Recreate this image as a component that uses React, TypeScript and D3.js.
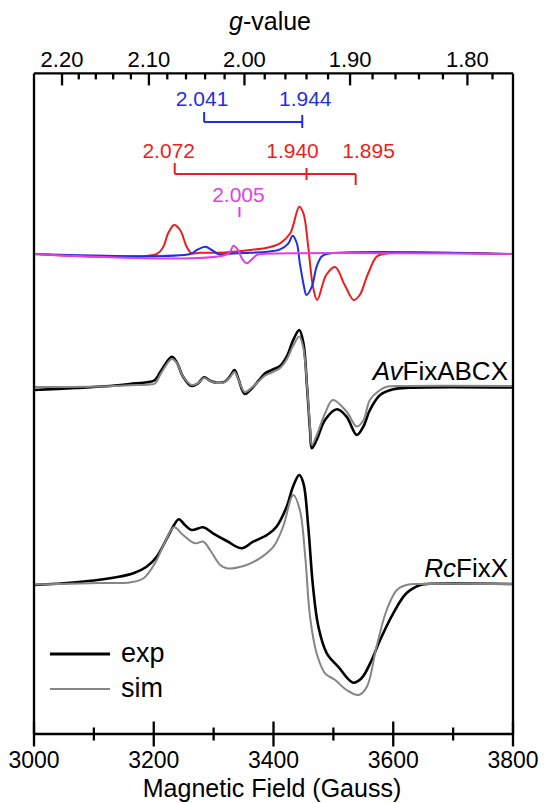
import React from 'react'
import * as d3 from 'd3'

type Pt = [number, number]

// g * B (gauss) for the spectrometer frequency, links the two x axes
const G_FIELD_PRODUCT = 6703

const FIELD_MAJOR = [3000, 3200, 3400, 3600, 3800]
const FIELD_MINOR = [3100, 3300, 3500, 3700]
const G_MAJOR = [2.2, 2.1, 2.0, 1.9, 1.8]
const G_MINOR = [2.18, 2.16, 2.14, 2.12, 2.08, 2.06, 2.04, 2.02, 1.98, 1.96, 1.94, 1.92, 1.88, 1.86, 1.84, 1.82, 1.78]

// simulated components (field G, intensity a.u.)
const redSim: Pt[] = [[3000, 0], [3205, 0], [3216, 0.73], [3224, 2.07], [3234, 2.9], [3244, 2.4], [3255, 0.73], [3263, 0.07], [3277, 0.13], [3305, 0.13], [3333, 0.23], [3361, 0.4], [3389, 0.63], [3411, 1.07], [3428, 2.07], [3443, 4.73], [3450, 4.07], [3458, 0.73], [3466, -3.27], [3473, -4.6], [3488, -2.1], [3503, -1.3], [3519, -3.1], [3534, -4.6], [3544, -4.1], [3556, -2.27], [3572, -0.27], [3583, 0], [3800, 0]]
const blueSim: Pt[] = [[3000, 0], [3261, 0], [3272, 0.4], [3286, 0.73], [3297, 0.4], [3308, 0], [3322, 0], [3361, 0.13], [3389, 0.23], [3411, 0.47], [3425, 1.07], [3432, 1.83], [3439, 1.07], [3444, -0.93], [3451, -3.27], [3455, -4.1], [3464, -3.27], [3472, -1.27], [3480, -0.27], [3489, 0], [3800, 0]]
const magentaSim: Pt[] = [[3000, 0], [3324, 0], [3333, 0.83], [3341, 0.4], [3347, -0.43], [3355, -0.93], [3364, -0.53], [3372, -0.1], [3381, 0], [3800, 0]]

const avExp: Pt[] = [[3000, -0.25], [3070, -0.05], [3120, 0.12], [3160, 0.35], [3194, 0.58], [3202, 0.75], [3213, 1.75], [3230, 3.08], [3238, 2.58], [3249, 1.08], [3263, 0.15], [3274, 0.42], [3284, 1.02], [3294, 0.68], [3305, 0.48], [3319, 0.58], [3327, 1.08], [3335, 1.75], [3341, 0.92], [3352, -0.65], [3364, -0.08], [3375, 0.68], [3386, 1.42], [3397, 1.75], [3411, 2.15], [3422, 3.08], [3433, 4.75], [3443, 5.75], [3450, 4.42], [3456, 0.08], [3461, -4.25], [3464, -6.08], [3472, -5.25], [3486, -3.25], [3506, -2.18], [3522, -2.92], [3539, -4.75], [3550, -3.92], [3561, -2.25], [3578, -0.75], [3600, -0.18], [3628, -0.02], [3800, 0]]
const avSim: Pt[] = [[3000, 0.05], [3110, 0.1], [3160, 0.22], [3194, 0.3], [3202, 0.4], [3213, 1.5], [3230, 2.85], [3238, 2.5], [3249, 1.1], [3263, 0.25], [3274, 0.45], [3284, 0.95], [3294, 0.65], [3305, 0.45], [3319, 0.55], [3327, 1.0], [3335, 1.55], [3341, 0.85], [3352, -0.45], [3364, 0], [3375, 0.6], [3386, 1.2], [3397, 1.5], [3411, 1.95], [3422, 2.8], [3433, 4.2], [3443, 5.1], [3450, 3.9], [3456, 0.2], [3461, -3.9], [3464, -5.75], [3472, -4.8], [3486, -2.6], [3499, -1.25], [3522, -2.4], [3539, -3.9], [3550, -3.3], [3561, -1.25], [3578, -0.25], [3589, 0.08], [3620, 0.15], [3800, 0.15]]

const rcExp: Pt[] = [[3000, -0.1], [3050, 0.08], [3100, 0.35], [3144, 0.75], [3166, 1.07], [3188, 1.73], [3205, 2.73], [3222, 4.57], [3234, 5.9], [3242, 6.47], [3252, 5.9], [3263, 5.4], [3283, 5.67], [3299, 5.07], [3322, 4.3], [3347, 3.57], [3366, 4.23], [3389, 4.9], [3405, 5.73], [3422, 7.73], [3433, 9.8], [3443, 10.9], [3450, 10.07], [3458, 5.73], [3466, -0.27], [3475, -4.27], [3489, -6.93], [3508, -8.27], [3533, -9.87], [3547, -9.43], [3564, -7.6], [3578, -5.6], [3600, -2.93], [3622, -0.93], [3645, -0.1], [3656, 0], [3800, 0]]
const rcSim: Pt[] = [[3000, -0.05], [3110, 0.1], [3160, 0.15], [3183, 0.57], [3202, 2.07], [3219, 4.23], [3234, 5.67], [3249, 4.9], [3269, 4.07], [3283, 4.23], [3294, 3.4], [3311, 1.9], [3322, 1.57], [3350, 1.8], [3377, 2.57], [3400, 3.73], [3416, 5.73], [3433, 8.9], [3444, 7.4], [3453, 2.73], [3461, -3.27], [3472, -6.93], [3486, -8.93], [3503, -9.6], [3522, -10.6], [3542, -11.1], [3556, -10.27], [3572, -6.27], [3589, -2.6], [3606, -0.6], [3622, -0.1], [3645, 0], [3800, 0]]

const blueG = [2.041, 1.944]
const redG = [2.072, 1.940, 1.895]
const magentaG = [2.005]

const RED = '#ee1d1d'
const BLUE = '#1f2fe2'
const MAGENTA = '#e23ee6'
const GRAY = '#858585'
const FONT = '"Liberation Sans", Arial, sans-serif'

const W = 548
const H = 803

export default function App() {
    const x = d3.scaleLinear().domain([3000, 3800]).range([34, 513])
    const y = d3.scaleLinear().domain([-15, 51.06]).range([734, 73.4])
    const gx = (g: number) => x(G_FIELD_PRODUCT / g)
    const [x0, x1] = x.range()
    const [yb, yt] = y.range()

    const path = (data: Pt[], offset: number) =>
        d3.line<Pt>()
            .x(d => x(d[0]))
            .y(d => y(d[1] + offset))
            .curve(d3.curveCatmullRom.alpha(0.5))(data) || ''

    const OFF_AV = 19.65
    const OFF_SIM = 33

    // bracket layouts: level in data units, ticks as px [top, bottom] relative to the line
    const brackets = [
        { g: blueG, color: BLUE, level: 46.2, ticks: [[-10, 0], [-7, 6]], labelDy: -16, dx: [-2, 3] },
        { g: redG, color: RED, level: 41, ticks: [[-11, 0], [-6, 6], [0, 11]], labelDy: -16, dx: [-6, -14, 13] },
    ]

    return (
        <svg width={W} height={H} style={{ position: 'absolute', left: 0, top: 0, background: '#fff' }} fontFamily={FONT}>
            {/* spectra */}
            <path d={path(redSim, OFF_SIM)} fill="none" stroke={RED} strokeWidth={2} />
            <path d={path(blueSim, OFF_SIM)} fill="none" stroke={BLUE} strokeWidth={2} />
            <path d={path(magentaSim, OFF_SIM)} fill="none" stroke={MAGENTA} strokeWidth={2} />

            <path d={path(avExp, OFF_AV)} fill="none" stroke="#000" strokeWidth={2.6} />
            <path d={path(avSim, OFF_AV)} fill="none" stroke={GRAY} strokeWidth={2} />
            <path d={path(rcExp, 0)} fill="none" stroke="#000" strokeWidth={2.6} />
            <path d={path(rcSim, 0)} fill="none" stroke={GRAY} strokeWidth={2} />

            {/* g-value brackets */}
            {brackets.map((b, i) => {
                const ly = y(b.level)
                const xs = b.g.map(gx)
                return (
                    <g key={i} stroke={b.color} strokeWidth={2}>
                        <line x1={xs[0]} x2={xs[xs.length - 1]} y1={ly} y2={ly} />
                        {xs.map((xx, j) => (
                            <line key={j} x1={xx} x2={xx} y1={ly + b.ticks[j][0]} y2={ly + b.ticks[j][1]} />
                        ))}
                        {b.g.map((g, j) => (
                            <text key={'t' + j} x={xs[j] + b.dx[j]} y={ly + b.labelDy} fill={b.color} stroke="none"
                                fontSize={21} textAnchor="middle">{g.toFixed(3)}</text>
                        ))}
                    </g>
                )
            })}
            {magentaG.map(g => (
                <g key={g}>
                    <line x1={gx(g)} x2={gx(g)} y1={y(37.2) - 5} y2={y(37.2) + 5} stroke={MAGENTA} strokeWidth={2} />
                    <text x={gx(g) - 1} y={y(37.2) - 10.5} fill={MAGENTA} fontSize={21} textAnchor="middle">{g.toFixed(3)}</text>
                </g>
            ))}

            {/* sample labels */}
            <text x={508} y={y(OFF_AV) - 8} fontSize={26} textAnchor="end">
                <tspan fontStyle="italic">Av</tspan>FixABCX
            </text>
            <text x={508} y={y(0) - 7} fontSize={26} textAnchor="end">
                <tspan fontStyle="italic">Rc</tspan>FixX
            </text>

            {/* legend */}
            <line x1={50} x2={110} y1={654} y2={654} stroke="#000" strokeWidth={3} />
            <text x={121} y={662} fontSize={27}>exp</text>
            <line x1={50} x2={110} y1={689} y2={689} stroke={GRAY} strokeWidth={2} />
            <text x={121} y={697} fontSize={27}>sim</text>

            {/* frame */}
            <g stroke="#000" strokeWidth={2.3} fill="none">
                <line x1={x0} x2={x1} y1={yt} y2={yt} />
                <line x1={x0} x2={x1} y1={yb} y2={yb} />
                <line x1={x0} x2={x0} y1={yt} y2={yb} />
                <line x1={x1} x2={x1} y1={yt} y2={yb} />
                {FIELD_MAJOR.map(v => <line key={v} x1={x(v)} x2={x(v)} y1={yb - 12.5} y2={yb + 12.5} />)}
                {FIELD_MINOR.map(v => <line key={v} x1={x(v)} x2={x(v)} y1={yb - 6.5} y2={yb + 6.5} />)}
                {G_MAJOR.map(g => <line key={g} x1={gx(g)} x2={gx(g)} y1={yt} y2={yt + 12} />)}
                {G_MINOR.map(g => <line key={g} x1={gx(g)} x2={gx(g)} y1={yt} y2={yt + 6} />)}
            </g>
            {FIELD_MAJOR.map(v => (
                <text key={v} x={x(v)} y={768} fontSize={23} textAnchor="middle">{v}</text>
            ))}
            {G_MAJOR.map(g => (
                <text key={g} x={gx(g)} y={67} fontSize={22} textAnchor="middle">{g.toFixed(2)}</text>
            ))}
            <text x={272} y={797} fontSize={25} textAnchor="middle">Magnetic Field (Gauss)</text>
            <text x={270} y={30} fontSize={25} textAnchor="middle">
                <tspan fontStyle="italic">g</tspan>-value
            </text>
        </svg>
    )
}
